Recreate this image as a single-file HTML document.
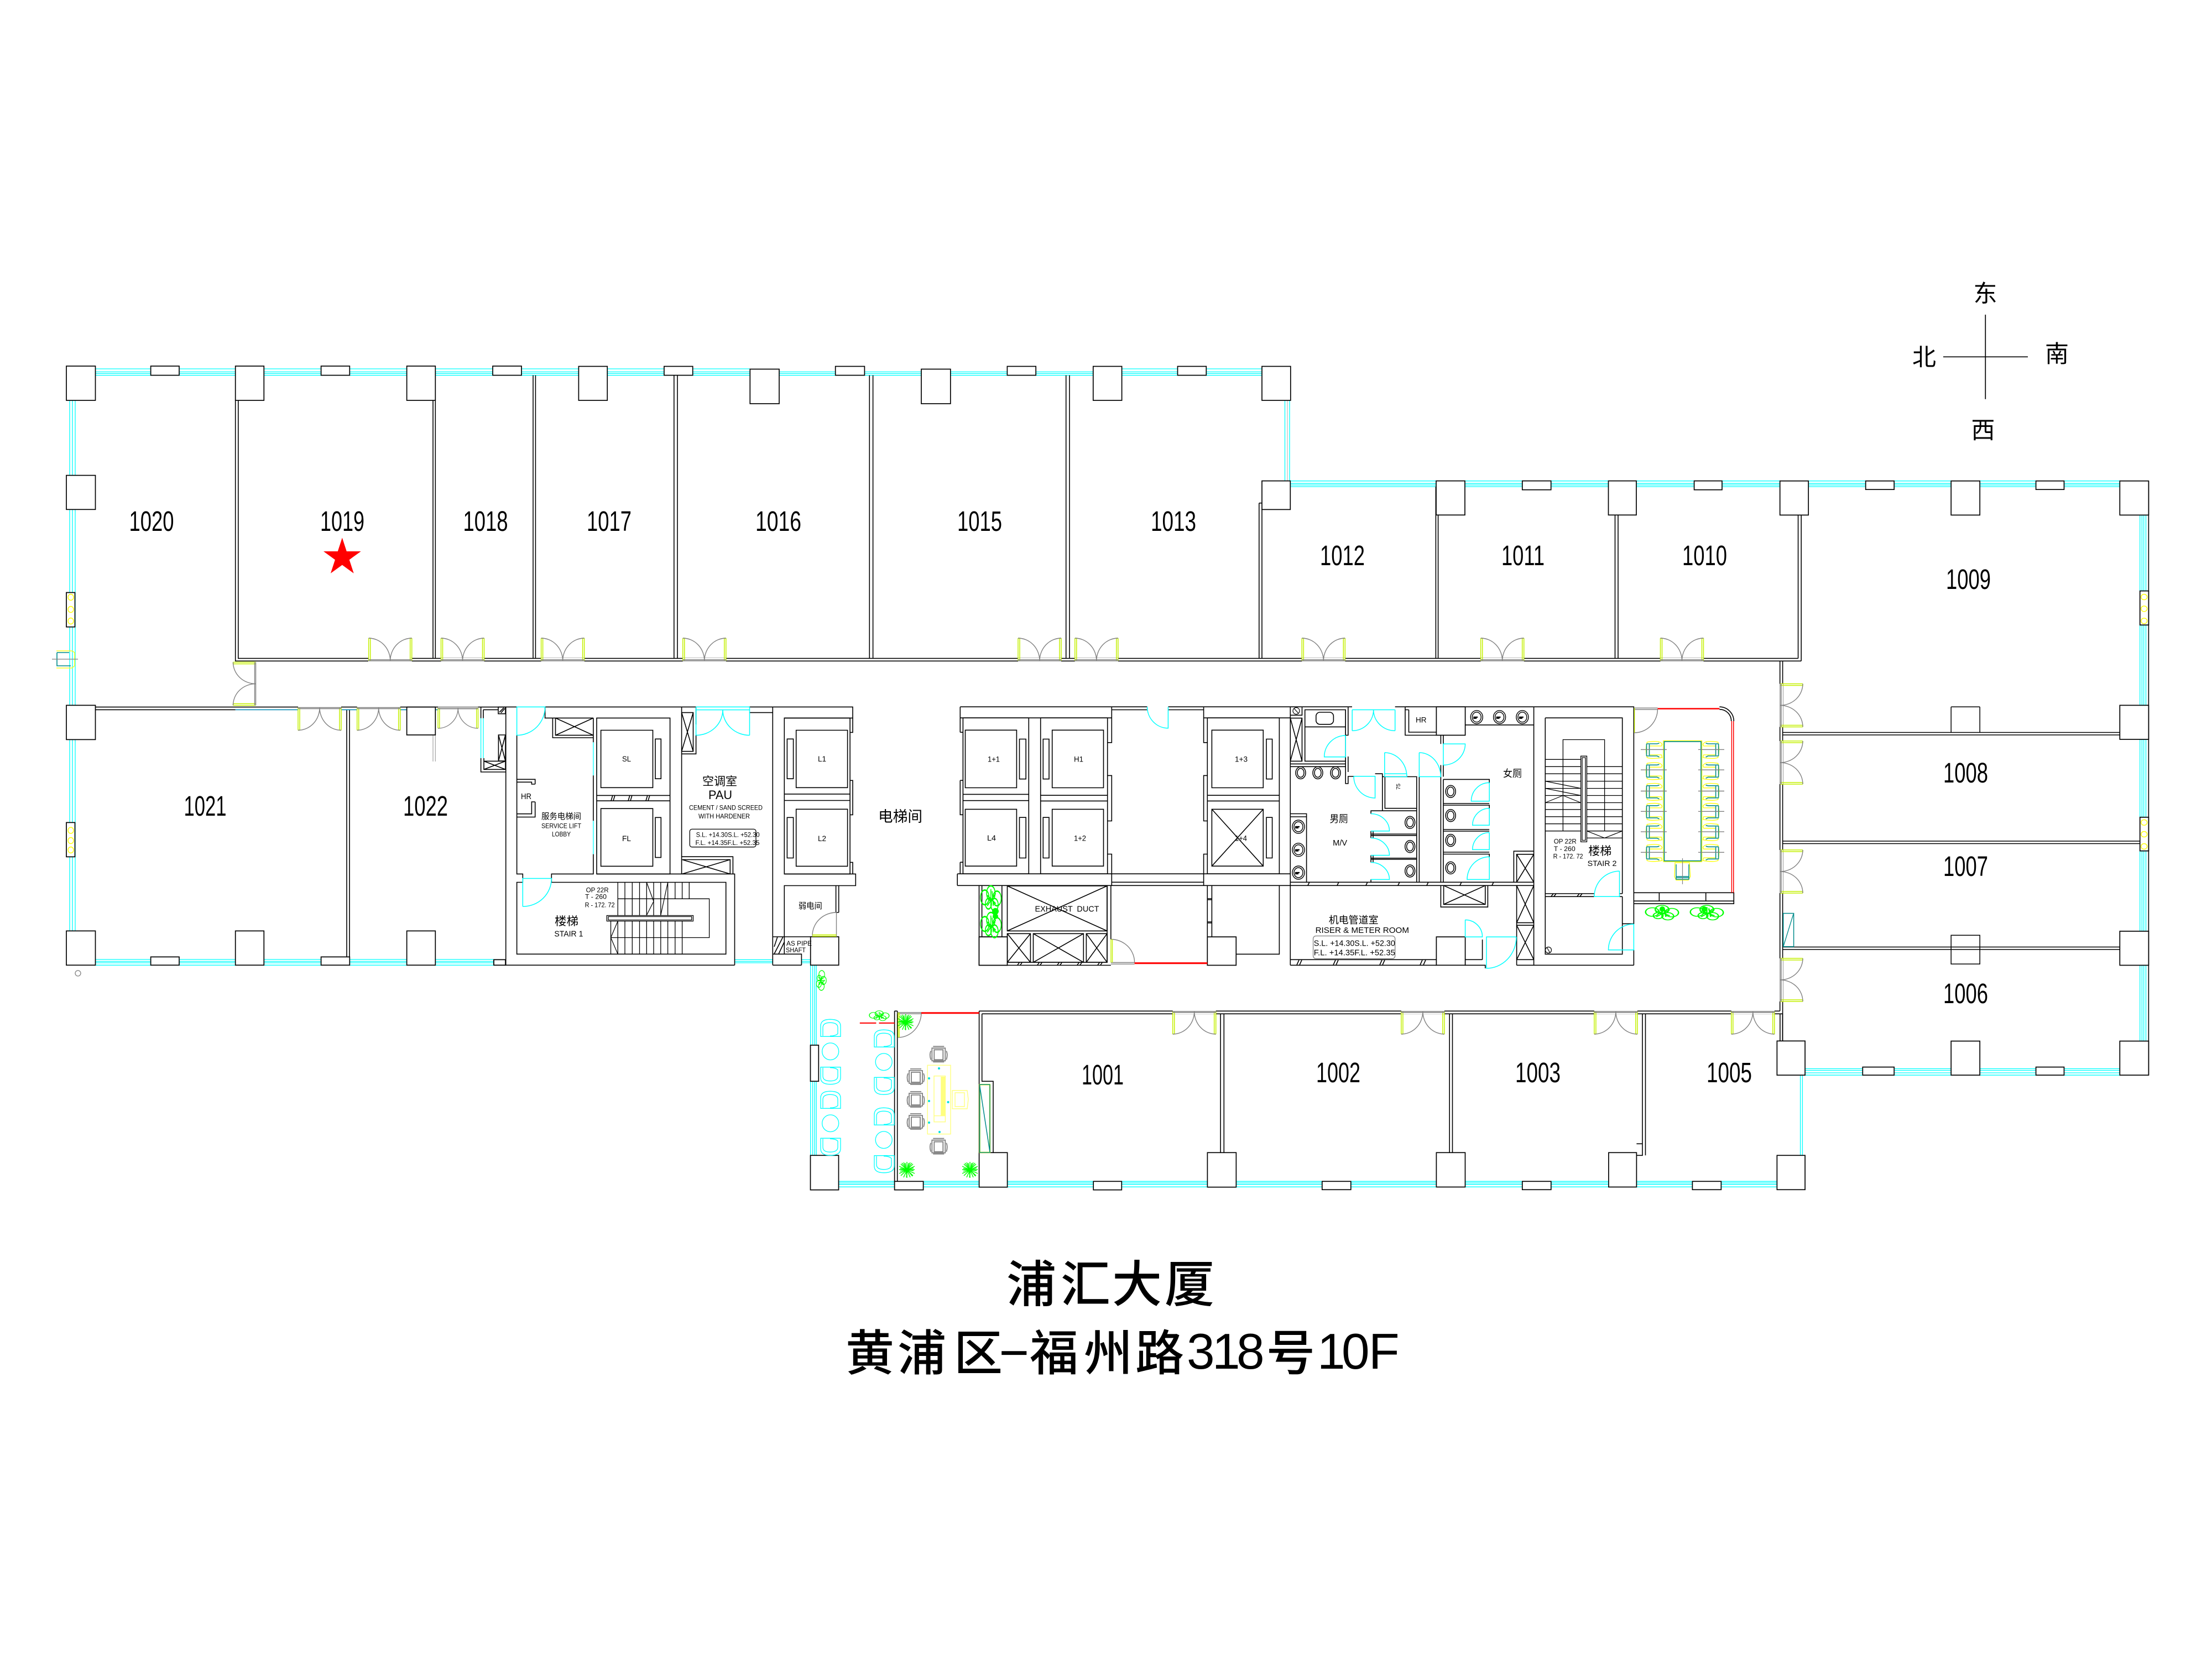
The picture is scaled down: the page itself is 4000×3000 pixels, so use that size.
<!DOCTYPE html>
<html><head><meta charset="utf-8"><title>浦汇大厦</title>
<style>html,body{margin:0;padding:0;background:#fff}svg{display:block}
text{font-family:"Liberation Sans","Noto Sans CJK SC",sans-serif;fill:#000;stroke:none}</style></head>
<body>
<svg xmlns="http://www.w3.org/2000/svg" width="4000" height="3000" viewBox="0 0 4000 3000">
<defs>
<g id="dd">
<rect x="0" y="36" width="78" height="7" fill="#fff"/>
<path d="M0 0V41M3 0V41M75 0V41M78 0V41M0 0H3M75 0H78" fill="none" stroke="#c4f000" stroke-width="1.5"/>
<path d="M0 0A39 41 0 0 1 39 41M78 0A39 41 0 0 0 39 41M0 39H78M0 41H78" fill="none" stroke="#808080" stroke-width="1.4"/>
</g>
<g id="cc">
<path d="M4 1Q28 -3 31 5L30 8H8V24H30L31 29Q12 32 4 29Q0 15 4 1Z" fill="none" stroke="#ffff00" stroke-width="1.3"/>
<path d="M3 4H22L26 3M3 26H22L26 28M3 4V26M8 5V25" fill="none" stroke="#008b8b" stroke-width="1.6"/>
</g>
<g id="cu"><path d="M1 31V12Q1 0 18 0Q37 0 37 12V31ZM5 30V15Q5 6 18 6Q32 6 32 15V26Q28 30 18 30" fill="none" stroke="#00ffff" stroke-width="1.3"/></g>
<g id="gc"><path d="M3 3H27V26H3ZM7 6H23V24H7ZM1 8Q-2 15 1 24M29 8Q32 15 29 24M5 0H25M5 28H25" fill="none" stroke="#808080" stroke-width="1.8"/></g>
<g id="sp"><path d="M14 0V29M0 14H28M3 4L25 25M25 4L3 25M8 1L20 28M20 1L8 28M0 8L28 21M28 8L0 21M5 2L14 14M23 2L14 14M3 25L14 14M24 26L14 14M11 2L14 28M17 2L13 28M2 12L26 16M2 17L26 11" fill="none" stroke="#00ff00" stroke-width="1.4"/></g>
<g id="lf" fill="none" stroke="#00ff00" stroke-width="1.4">
<circle cx="8" cy="12" r="7"/><circle cx="18" cy="8" r="7"/><circle cx="28" cy="13" r="7"/><circle cx="14" cy="18" r="5"/><circle cx="24" cy="19" r="6"/><path d="M18 4V22M12 10L26 18M26 8L12 20M20 6L22 20"/></g>
<g id="tt" fill="none" stroke="#000" stroke-width="1.5"><ellipse cx="0" cy="0" rx="9" ry="11"/><ellipse cx="0" cy="0" rx="6" ry="8"/></g>
<g id="sk" fill="none" stroke="#000" stroke-width="1.4"><ellipse cx="0" cy="0" rx="11" ry="12"/><ellipse cx="0" cy="0" rx="8" ry="9"/><path d="M-6 0H2M-6 2H0" stroke-width="2.2"/></g>
</defs>

<!-- glazing -->
<g fill="none" stroke="#00ffff" stroke-width="1.3">
<path d="M172 667H1356M1976 667H2282M172 672.5H2282M172 675.5H2282M172 678.6H2282"/>
<path d="M2323.5 724V870M2332 724V870"/>
<path d="M2333 869.7H3833M2333 874.2H3833M2333 877H3833M2333 880H3833"/>
<path d="M3869.7 931V1882M3873.4 931V1882M3876.7 931V1882M3880.5 931V1882"/>
<path d="M3264 1932.5H3833M3264 1935.5H3833M3264 1940H3833M3264 1944.2H3833"/>
<path d="M126 724V1683M131 724V1683M136 724V1683"/>
<path d="M172 1735H893M172 1738.5H893M172 1741H893M172 1745.3H893"/>
<path d="M1328 1735.4H1397M1328 1738.5H1397M1328 1741H1397M1449 1735.4H1466M1449 1738.5H1466M1449 1741H1466"/>
<path d="M1516 2136.3H3213M1516 2139H3213M1516 2141.7H3213M1516 2146.3H3213"/>
<path d="M1465.7 1745V2089M1469.6 1745V2089M1473.2 1745V2089M1476.2 1745V2089"/>
<path d="M3255.6 1944V2089M3259.4 1944V2089"/>
<path d="M869.6 1298.7V1371M874 1298.7V1371"/>
<path d="M1072.9 1342.2V1402.2M1079 1342.2V1402.2M1072.9 1484.3V1544.6M1079 1484.3V1544.6"/>
</g>
<path d="M2328 724V870" stroke="#bbb" stroke-width="1.2" fill="none"/>

<!-- walls -->
<g fill="none" stroke="#000" stroke-width="1.6">
<path d="M425.7 724V1195.3H666M430.8 724V1190.6H666"/>
<path d="M743 1190.6H3251.6M743 1195.3H3257.2"/>
<path d="M783 724V1190.6M787.3 724V1190.6M964 678.6V1190.6M968.4 678.6V1190.6"/>
<path d="M1218.8 678.6V1190.6M1225 678.6V1190.6M1572.3 678.6V1190.6M1578.6 678.6V1190.6M1927.7 678.6V1190.6M1934 678.6V1190.6"/>
<path d="M2276.8 909.7V1190.6M2276.8 909.7H2282M2282 921V1190.6M2596.4 880V1190.6M2600.6 931V1190.6M2920.5 931.3V1190.6M2926 931.3V1190.6M3251.6 931.3V1190.6M3257.2 931.3V1195.3"/>
<path d="M172.5 1278.6H914.7M172.5 1283.4H425.7"/>
<path d="M627 1283.4V1735.4M632 1283.4V1735.4"/>
<path d="M3218.7 1195.3V1828.3M3223.6 1195.3V1882.6"/>
<path d="M3223.6 1324.5H3833.3M3223.6 1329H3833.3M3223.6 1521H3869.7M3223.6 1525.5H3869.7M3223.6 1712.5H3833.3M3223.6 1717H3833.3"/>
<path d="M3885.4 870V1944.2"/>
<path d="M1770.6 1828.3H3218.7M1775.7 1833.3H3223.6M1770.6 1828.3V2084.3M1775.7 1833.3V1955.3H1796V2084.3"/>
<path d="M1617.6 1828.3V2136.5M1622.7 1828.3V2136.5M1617.6 1828.3H1622.7"/>
<path d="M2207.1 1833.3V2084.3M2213.3 1833.3V2084.3M2621.2 1833.3V2084.3M2626.5 1833.3V2084.3M2970 1833.3V2089.3H2959.4M2975.5 1833.3V2089.3M2959.4 2068.3H2970M3218.9 1833.3V1882.3M3223.4 1833.3V1882.3"/>
</g>
<path d="M425.7 1283.4H539M615.7 1283.4H645.7M722 1283.4H736M787.3 1283.4H792" stroke="#0a8cb4" stroke-width="1.6" fill="none"/>
<path d="M783 1329V1377M787.3 1329V1377" stroke="#999" stroke-width="1.1" fill="none"/>

<!-- west core -->
<g fill="none" stroke="#000" stroke-width="1.6">
<path d="M869.6 1278.5V1298.7M874 1283.4V1298.7M874 1283.4H901"/>
<path d="M901 1278.5H914V1290.7H901ZM903 1288L911 1280M906 1289L913 1281"/>
<path d="M901.4 1329H914V1376H901.4ZM901.4 1329L914 1376M914 1329L901.4 1376"/>
<path d="M869.6 1371V1396H914M875 1371V1391.4H914M875 1376.4H914V1391.4M875 1376.4L914 1391.4M914 1376.4L875 1391.4"/>
<path d="M914.7 1278.4V1745.3M892.8 1745.3H1328.5M892.8 1735.4V1745.3M892.8 1735.4H914.7"/>
<path d="M914.7 1278.4H934.6M985.6 1278.4H1258.6M1355.5 1278.4H1542V1298.4H1418.3"/>
<path d="M934.6 1329.6V1580.4H945.3V1595.5H934.6V1725.3H1312.7V1595.5H997.3V1580.4H1072.9V1544.6M1072.9 1484.3V1402.2M1072.9 1342.2V1334"/>
<path d="M985.6 1278.4V1298.4H1072.9M999.4 1298.4V1334H1072.9V1298.4M1004.5 1298.4V1329.6H1072.9M1004.5 1298.4L1072.9 1329.6M1072.9 1298.4L1004.5 1329.6"/>
<path d="M1079 1298.4H1211.6V1580.4H1079ZM1079 1438.4H1211.6M1079 1448.2H1211.6"/>
<path d="M1086.6 1320.5H1180.5V1424.3H1086.6ZM1185 1336.3H1195.3V1408.2H1185ZM1086.6 1462.2H1180.5V1566.4H1086.6ZM1185 1478.3H1195.3V1550.6H1185Z"/>
<path d="M1105 1448L1108 1438M1109 1448L1112 1438M1136 1448L1139 1438M1140 1448L1143 1438M1168 1448L1171 1438M1172 1448L1175 1438"/>
<path d="M1079 1580.4H1328.5V1745.3M1232.6 1278.4V1580.4M1397.3 1278.4V1745.3"/>
<path d="M1232.6 1288.6H1253.5V1358.7H1232.6M1232.6 1288.6L1253.5 1358.7M1253.5 1288.6L1232.6 1358.7M1232.6 1363.3H1258.6V1329.6M1258.6 1278.4V1310"/>
<path d="M1355.5 1288.6H1397.3"/>
<path d="M1232.6 1549.2H1325.4V1580.4M1233.6 1554.5H1320.3V1580.4M1233.6 1554.5L1320.3 1580.4M1320.3 1554.5L1233.6 1580.4"/>
<path d="M1117.2 1595.5V1655M1130 1595.5V1655M1143.3 1595.5V1655M1156.5 1595.5V1655M1169.3 1595.5V1655M1182 1595.5V1655M1194.8 1595.5V1655M1207.6 1595.5V1655M1220.8 1595.5V1625.3M1233.6 1595.5V1625.3M1246.3 1595.5V1625.3" stroke-width="1.3"/>
<path d="M1104.5 1665.6V1725.3M1117.2 1665.6V1725.3M1130 1665.6V1725.3M1143.3 1665.6V1725.3M1156.5 1665.6V1725.3M1169.3 1665.6V1725.3M1182 1665.6V1725.3M1194.8 1665.6V1725.3M1207.6 1665.6V1725.3M1220.8 1665.6V1725.3M1233.6 1665.6V1725.3" stroke-width="1.3"/>
<path d="M1117.2 1625.3H1282.6V1695.5H1104.5M1097.3 1655.5H1253.5V1665.6H1097.3ZM1100 1657.5H1250.8V1663.6H1100Z" stroke-width="1.3"/>
<path d="M1169.3 1595.5L1182 1630L1169.3 1655M1207.6 1595.5L1194.8 1655M1117.2 1665.6L1104.5 1695.5L1117.2 1725.3" stroke-width="1.2"/>
<path d="M934.6 1409.3H967.7V1418M967.7 1450V1477.5H934.6M934.6 1414.3H961.4V1418H967.7M967.7 1450H961.4V1471.7H934.6"/>
<path d="M1418.3 1298.4H1537.1V1580.4H1418.3ZM1418.3 1435.9H1537.1M1418.3 1447.5H1537.1"/>
<path d="M1439.7 1320.5H1532.6V1424.3H1439.7ZM1423.4 1336.3H1434.6V1408.2H1423.4ZM1439.7 1463.3H1532.6V1566.4H1439.7ZM1423.4 1478.3H1434.6V1551.5H1423.4Z"/>
<path d="M1542 1298.4V1324.4H1537M1537 1411.3H1542V1473.4H1537M1537 1559.4H1542V1580.4"/>
<path d="M1418.3 1580.4H1547.3V1601.5H1418.3V1725.3M1511.6 1601.5V1650M1516.7 1601.5V1650M1511.6 1650H1516.7"/>
<path d="M1397.3 1694H1465.7M1397.3 1725.3H1449.4V1745.3M1397.3 1745.3H1449.4M1400 1712L1406 1694M1400 1725L1416 1694M1408 1725L1418 1704"/>
</g>

<!-- east core -->
<g fill="none" stroke="#000" stroke-width="1.6">
<path d="M1736.3 1278.2H2074.6M2112.4 1278.2H2333.3V1745.4M2010.3 1283.5H2074.6M2112.4 1283.5H2176.6"/>
<path d="M1736.3 1278.2V1298.2H2010.3M2176.6 1298.2H2333.3"/>
<path d="M1741.4 1298.2H1860.3V1580.2H1741.4ZM1741.4 1436.4H1860.3M1741.4 1447.7H1860.3"/>
<path d="M1881.7 1298.2H2002.7V1580.2H1881.7ZM1881.7 1438.2H2002.7M1881.7 1448.4H2002.7"/>
<path d="M2183.3 1298.2H2313.4V1580.2H2183.3ZM2183.3 1438.2H2313.4M2183.3 1448.4H2313.4"/>
<path d="M1745.5 1320.3H1838.4V1424.5H1745.5ZM1843.5 1336.5H1855.2V1408.7H1843.5ZM1745.5 1463.4H1838.4V1566.2H1745.5ZM1843.5 1478.2H1855.2V1551.5H1843.5Z"/>
<path d="M1902.7 1320.3H1995.5V1424.5H1902.7ZM1886.3 1336.5H1897V1408.7H1886.3ZM1902.7 1463.4H1995.5V1566.2H1902.7ZM1886.3 1478.2H1897V1551.5H1886.3Z"/>
<path d="M2191.4 1320.3H2284.3V1424.5H2191.4ZM2290 1336.5H2300.6V1408.7H2290ZM2191.4 1463.4H2284.3V1566.2H2191.4ZM2290 1478.2H2300.6V1551.5H2290ZM2191.4 1463.4L2284.3 1566.2M2284.3 1463.4L2191.4 1566.2"/>
<path d="M1736.3 1324.2H1741.4M1736.3 1298.2V1324.2M1736.3 1411.2H1741.4M1736.3 1411.2V1473.3H1741.4M1736.3 1559.2V1580.2M1736.3 1559.2H1741.4"/>
<path d="M2010.3 1278.2V1342.8H2002.7M2002.7 1402.4H2010.3V1484.5H2002.7M2002.7 1544.5H2010.3V1601.3"/>
<path d="M2176.6 1278.2V1342.8H2183.3M2183.3 1402.4H2176.6V1484.5H2183.3M2183.3 1544.5H2176.6V1601.3"/>
<path d="M1731.2 1580.2H2333.3M1731.2 1601.3H2773.6M1731.2 1580.2V1601.3M2010.3 1595.3H2176.6"/>
<path d="M1770.5 1601.3V1745.5H2008.8M2008.8 1601.3V1698.5M2002 1601.3V1740.2H1821.5M1775.6 1601.3V1694.2M1811.8 1601.3V1694.2M1770.5 1694.2H1821.5"/>
<path d="M1821.5 1602H2002V1683.4H1821.5ZM1821.5 1602L2002 1683.4M2002 1602L1821.5 1683.4"/>
<path d="M1821.5 1688.3H1863.4V1740.2H1821.5ZM1821.5 1688.3L1863.4 1740.2M1863.4 1688.3L1821.5 1740.2"/>
<path d="M1868.5 1688.3H1959.3V1740.2H1868.5ZM1868.5 1688.3L1959.3 1740.2M1959.3 1688.3L1868.5 1740.2"/>
<path d="M1964.4 1688.3H2002V1740.2H1964.4ZM1964.4 1688.3L2002 1740.2M2002 1688.3L1964.4 1740.2"/>
<path d="M1840 1745L1843 1741M1845 1745L1848 1741M1876 1745L1879 1741M1881 1745L1884 1741M1912 1745L1915 1741M1917 1745L1920 1741M1948 1745L1951 1741M1953 1745L1956 1741M1985 1745L1988 1741M1990 1745L1993 1741"/>
<path d="M2183.3 1601.3V1694.2M2191.4 1601.3V1694.2M2235.3 1725.4H2313.4V1601.3M2183.3 1625H2191.4M2183.3 1627H2191.4M2183.3 1667H2191.4M2183.3 1669H2191.4"/>
<path d="M2333.3 1595.3H2773.6M2333.3 1735.3H2597.4M2333.3 1745.4H2597.4M2649.6 1735.3H2680.6M2649.6 1745.4H2685.8V1751"/>
<path d="M2680.6 1699V1735.3M2742.6 1745.4H2954.4M2742.6 1601.3V1745.4"/>
<path d="M2742.6 1601.3L2773.6 1668.6M2773.6 1601.3L2742.6 1668.6M2742.6 1668.6H2773.6M2742.6 1673.2H2773.6M2742.6 1673.2L2773.6 1735.3M2773.6 1673.2L2742.6 1735.3M2742.6 1735.3H2773.6"/>
<path d="M2605.4 1601.3V1640.2H2690.4V1601.3M2610.6 1601.3V1635.4H2685.8V1601.3M2610.6 1601.3L2685.8 1635.4M2685.8 1601.3L2610.6 1635.4"/>
<path d="M2345 1745L2349 1736M2350 1745L2354 1736M2411 1745L2415 1736M2416 1745L2420 1736M2495 1745L2499 1736M2500 1745L2504 1736M2568 1745L2572 1736M2574 1745L2578 1736"/>
<path d="M2365 1601L2368 1595M2418 1601L2421 1595M2470 1601L2473 1595M2528 1601L2531 1595M2580 1601L2583 1595M2640 1601L2643 1595M2698 1601L2701 1595"/>
<path d="M2333.3 1278.2H2445M2522.7 1278.2H2649.6M2649.6 1278.2H2773.6M2333.3 1293.3H2354.5V1278.2M2333.3 1298.6H2354.5V1376.4H2333.3M2333.3 1298.6L2354.5 1376.4M2354.5 1298.6L2333.3 1376.4"/>
<path d="M2359.7 1283.5H2433.2V1376.4H2359.7ZM2359.7 1314.4H2433.2M2333.3 1381.4H2433.2M2333.3 1386.3H2433.2"/>
<rect x="2379.8" y="1288" width="31.6" height="21.8" rx="7"/>
<path d="M2433.2 1283.5V1329.5H2437.8V1278.2M2433.2 1368V1417H2437.8V1404H2448M2437.8 1368V1396"/>
<path d="M2486.6 1399.2H2499.8V1466M2499.8 1404.5H2561.8V1595.3M2504.4 1404.5V1461.7H2561.8"/>
<path d="M2479.1 1466.2H2561.8M2479.1 1471.5V1466.2H2499.8M2479.1 1595.3V1590.4M2479.1 1508.3H2561.8M2479.1 1510.8H2561.8M2479.1 1502.7V1515.4M2483 1502.7V1515.4M2479.1 1551.8H2561.8M2479.1 1554H2561.8M2479.1 1546.6V1559.5M2483 1546.6V1559.5"/>
<path d="M2566.4 1404.5V1595.3M2605.4 1404.5V1595.3M2610 1409.4V1595.3M2605.4 1329.5V1345.2M2610 1329.5V1345.2M2605.4 1383.5V1404.5M2610 1383.5V1404.5"/>
<path d="M2610 1409.4H2693.2V1415.4M2610 1453H2693.2M2610 1456H2693.2V1461.7M2610 1500H2693.2M2610 1503H2693.2M2610 1541H2693.2M2610 1544.5H2693.2V1549.4"/>
<path d="M2541 1278.2V1329.5H2597.4M2547.5 1283.5V1324H2597.4M2541 1278.2H2549M2541 1283.5H2547.5M2649.6 1310.9H2773.6"/>
<path d="M2737.4 1595.3V1539.2H2773.6M2742.6 1595.3V1544.8H2773.6M2742.6 1544.8L2773.6 1595.3M2773.6 1544.8L2742.6 1595.3"/>
<path d="M2333.3 1471.5H2362.6V1595.3M2333.3 1477H2362.6"/>
<path d="M2773.6 1278.2H2954.4V1671M2954.4 1717.7V1745.4M2794.3 1298.2H2933.7V1616M2794.3 1298.2V1725.4H2933.7V1670.4H2954.4M2933.7 1621.3V1670.4"/>
<path d="M2773.6 1278.2V1745.4"/>
<path d="M2794.3 1616H2882.9M2794.3 1621.3H2882.9M2928.5 1616H2933.7M2928.5 1621.3H2933.7M2805 1621L2809 1616M2810 1621L2814 1616M2852 1621L2856 1616M2857 1621L2861 1616"/>
<path d="M2826.4 1502.7V1337.5H2901.6V1502.7M2858.6 1367.3H2869.5V1522.4H2858.6ZM2861 1370H2867V1519.5H2861Z" stroke-width="1.3"/>
<path d="M2794.3 1373.3H2858.6M2794.3 1386.3H2858.6M2794.3 1399.2H2858.6M2794.3 1412.6H2858.6M2794.3 1425.6H2858.6M2794.3 1438.5H2858.6M2794.3 1451.5H2858.6M2794.3 1463.8H2858.6M2794.3 1476.8H2858.6M2794.3 1489.7H2858.6M2794.3 1502.7H2858.6" stroke-width="1.3"/>
<path d="M2869.5 1386.3H2933.7M2869.5 1399.2H2933.7M2869.5 1412.6H2933.7M2869.5 1425.6H2933.7M2869.5 1438.5H2933.7M2869.5 1451.5H2933.7M2869.5 1463.8H2933.7M2869.5 1476.8H2933.7M2869.5 1489.7H2933.7M2869.5 1502.7H2933.7M2869.5 1515.4H2933.7" stroke-width="1.3"/>
<path d="M2794.3 1412.6L2858.6 1425.6M2794.3 1425.6L2858.6 1438.5M2794.3 1451.5L2826.4 1438.5L2858.6 1451.5M2869.5 1502.7L2901.6 1515.4L2933.7 1502.7" stroke-width="1.2"/>
<circle cx="2800" cy="1718" r="5.5" stroke-width="1.2"/><path d="M2797 1713L2803 1723" stroke-width="1.2"/>
<circle cx="2344" cy="1285.5" r="6" stroke-width="1.2"/><path d="M2340 1281L2348 1290" stroke-width="1.2"/>
<path d="M2954.4 1614.3H3135.3V1634.2H2954.4M2954.4 1629.3H3135.3M3000.4 1614.3V1629.3M3084.7 1614.3V1629.3"/>
<path d="M3109.4 1278.2A26 26 0 0 1 3135.3 1304M3109.4 1282.8A21 21 0 0 1 3130.7 1304"/>
</g>

<!-- toilets, sinks -->
<use href="#tt" x="2352" y="1397.5"/><use href="#tt" x="2383" y="1397.5"/><use href="#tt" x="2415" y="1397.5"/>
<use href="#tt" x="2549.7" y="1487.3"/><use href="#tt" x="2549.7" y="1530.8"/><use href="#tt" x="2549.7" y="1575"/>
<use href="#tt" x="2623.2" y="1431.2"/><use href="#tt" x="2623.2" y="1474.7"/><use href="#tt" x="2623.2" y="1519.6"/><use href="#tt" x="2623.2" y="1569.4"/>
<use href="#sk" x="2348" y="1495"/><use href="#sk" x="2348" y="1536.7"/><use href="#sk" x="2348" y="1578"/>
<use href="#sk" x="2670.3" y="1296.8"/><use href="#sk" x="2711.6" y="1296.8"/><use href="#sk" x="2752.9" y="1296.8"/>

<!-- columns & piers -->
<g fill="#fff" stroke="#000" stroke-width="1.7">
<rect x="120" y="662" width="52.5" height="62"/><rect x="425.7" y="662" width="51.6" height="62"/><rect x="735.6" y="662" width="51.7" height="62"/><rect x="1046.4" y="662.5" width="51.8" height="61.5"/><rect x="1356.3" y="667.5" width="52.7" height="62.5"/><rect x="1666" y="667.5" width="52.8" height="62.5"/><rect x="1976.8" y="662.5" width="51.8" height="61.5"/><rect x="2282" y="662.5" width="51.8" height="61.5"/>
<rect x="120" y="859.6" width="52.5" height="61.7"/><rect x="120" y="1275.4" width="52.5" height="62"/><rect x="120" y="1683.4" width="52.5" height="61.9"/><rect x="425.7" y="1683.4" width="51.6" height="61.9"/><rect x="735.6" y="1683.4" width="51.7" height="61.9"/><rect x="735.6" y="1278.6" width="51.7" height="50.4"/>
<rect x="2282" y="869.6" width="51.3" height="51.8"/><rect x="2597" y="869.6" width="52" height="61.7"/><rect x="2908.5" y="869.6" width="50.5" height="61.7"/><rect x="3218.7" y="869.7" width="51.5" height="61.7"/><rect x="3528.2" y="869.7" width="52" height="61.7"/><rect x="3833.3" y="869.7" width="52.1" height="61.7"/>
<rect x="3833.3" y="1275.4" width="52.1" height="61.6"/><rect x="3833.3" y="1683.9" width="52.1" height="61.6"/><rect x="3833.3" y="1882.6" width="52.1" height="61.6"/>
<rect x="3528.2" y="1882.6" width="52" height="61.6"/><rect x="3213.4" y="1882.4" width="50.7" height="61.8"/><rect x="3213.4" y="2089.3" width="50.7" height="62"/>
<rect x="1465.5" y="2089.3" width="51" height="62.4"/><rect x="1770.6" y="2084.3" width="51" height="62.4"/><rect x="2183.4" y="2084.3" width="52" height="62.4"/><rect x="2597.4" y="2084.3" width="52.1" height="62.2"/><rect x="2908.9" y="2084.3" width="50.5" height="62.2"/>
<rect x="1465.7" y="1694" width="51" height="51.3"/><rect x="1770.5" y="1694.2" width="51" height="51.3"/><rect x="2183.3" y="1694.2" width="52" height="51.3"/><rect x="2597.4" y="1694.2" width="52.2" height="51.2"/><rect x="2597.4" y="1278.2" width="52.2" height="51.3"/>
<rect x="272.6" y="662" width="51.4" height="16.6"/><rect x="580.6" y="662" width="51.7" height="16.6"/><rect x="891" y="662" width="52" height="16.6"/><rect x="1200.9" y="662.5" width="51.8" height="16.1"/><rect x="1510.7" y="662.5" width="52.7" height="16.1"/><rect x="1821.4" y="662.5" width="51.8" height="16.1"/><rect x="2129.5" y="662.5" width="51.8" height="16.1"/>
<rect x="2752.8" y="869.6" width="51.9" height="16.1"/><rect x="3063.6" y="869.6" width="50.4" height="16.1"/><rect x="3373.7" y="869.7" width="51.5" height="15.5"/><rect x="3681.6" y="869.7" width="50.9" height="15.5"/>
<rect x="272.6" y="1730.4" width="51.4" height="14.9"/><rect x="580.6" y="1730.4" width="51.7" height="14.9"/><rect x="893" y="1735.4" width="21" height="9.9"/>
<rect x="3368.3" y="1929.6" width="56.9" height="14.6"/><rect x="3681.6" y="1929.6" width="50.9" height="14.6"/>
<rect x="1617.6" y="2136.3" width="52" height="15.4"/><rect x="1977.2" y="2136.3" width="51.1" height="15.4"/><rect x="2390.8" y="2136.3" width="52" height="15"/><rect x="2752.8" y="2136.3" width="52" height="15"/><rect x="3060.4" y="2136.3" width="52" height="15"/>
<rect x="120" y="1071.5" width="15.5" height="62.2"/><rect x="120" y="1487.4" width="15.5" height="62"/><rect x="3869.7" y="1068.6" width="15.7" height="61.6"/><rect x="3869.7" y="1477.8" width="15.7" height="60.9"/><rect x="1465.5" y="1890" width="14.8" height="65.3"/>
</g>
<path d="M3528.2 1278.3V1324.5M3580.2 1278.3V1324.5M3528.2 1278.3H3580.2M3528.2 1691.2H3580.2V1743.3H3528.2Z" fill="none" stroke="#000" stroke-width="1.5"/>

<!-- yellow circles -->
<g fill="none" stroke="#ffff00" stroke-width="1.4">
<ellipse cx="128" cy="1080" rx="5" ry="5.5"/><ellipse cx="128" cy="1102" rx="5" ry="5.5"/><ellipse cx="128" cy="1123" rx="5" ry="5.5"/>
<ellipse cx="128" cy="1501.6" rx="5" ry="5.5"/><ellipse cx="128" cy="1520" rx="5" ry="5.5"/><ellipse cx="128" cy="1537" rx="5" ry="5.5"/>
<ellipse cx="3877.2" cy="1079.6" rx="5.5" ry="5"/><ellipse cx="3877.2" cy="1100.8" rx="5.5" ry="5"/><ellipse cx="3877.2" cy="1122.8" rx="5.5" ry="5"/>
<ellipse cx="3877.2" cy="1487.3" rx="5.5" ry="5"/><ellipse cx="3877.2" cy="1508.6" rx="5.5" ry="5"/><ellipse cx="3877.2" cy="1530.6" rx="5.5" ry="5"/>
</g>
<ellipse cx="141" cy="1760" rx="5" ry="5" fill="none" stroke="#808080" stroke-width="1.3"/>
<!-- west wall AC unit -->
<path d="M102 1177H130L135 1180V1204L130 1208H102" fill="none" stroke="#ffff00" stroke-width="1.3"/>
<path d="M103 1180H125M103 1180V1204H128" fill="none" stroke="#008b8b" stroke-width="1.6"/>
<path d="M94 1192H141" stroke="#808080" stroke-width="1.2"/>

<!-- double doors -->
<use href="#dd" transform="translate(666.7,1154)"/><use href="#dd" transform="translate(797.5,1154)"/><use href="#dd" transform="translate(978.6,1154)"/><use href="#dd" transform="translate(1234.8,1154)"/><use href="#dd" transform="translate(1841,1154)"/><use href="#dd" transform="translate(1943.8,1154)"/><use href="#dd" transform="translate(2354.3,1154)"/><use href="#dd" transform="translate(2677.7,1154)"/><use href="#dd" transform="translate(3002.5,1154)"/>
<use href="#dd" transform="translate(539,1320.5) scale(1,-1)"/><use href="#dd" transform="translate(645.7,1320.5) scale(1,-1)"/><use href="#dd" transform="translate(792,1317) scale(.93,-.9)"/>
<use href="#dd" transform="translate(2120.7,1870) scale(1,-1)"/><use href="#dd" transform="translate(2533.9,1870) scale(1,-1)"/><use href="#dd" transform="translate(2882.9,1870) scale(1,-1)"/><use href="#dd" transform="translate(3130.8,1870) scale(1,-1)"/>
<use href="#dd" transform="translate(3260,1236.5) rotate(90)"/><use href="#dd" transform="translate(3260,1340) rotate(90)"/><use href="#dd" transform="translate(3260,1537) rotate(90)"/><use href="#dd" transform="translate(3260,1733) rotate(90)"/>
<use href="#dd" transform="translate(421.5,1275.5) rotate(-90)"/>

<!-- cyan doors -->
<g fill="none" stroke="#00ffff" stroke-width="1.5">
<path d="M934.6 1329.6V1278.4H985.6A51 51.2 0 0 1 934.6 1329.6"/>
<path d="M945.3 1639.3V1588.5H997.3A52 50.8 0 0 1 945.3 1639.3"/>
<path d="M1258.6 1278.4H1355.5M1258.6 1283.6H1355.5M1258.6 1329.6V1278.4M1355.5 1329.6V1278.4M1307 1283.6A48.4 46 0 0 1 1258.6 1329.6M1307 1283.6A48.5 46 0 0 0 1355.5 1329.6"/>
<path d="M2074.6 1278.2V1283.5M2112.4 1278.2V1316.8A37.8 38.6 0 0 1 2074.6 1278.2"/>
<path d="M2445.2 1283.5H2522.7M2445.2 1321.4V1283.5M2522.7 1321.4V1283.5M2483.7 1283.5A38.5 37.9 0 0 1 2445.2 1321.4M2483.7 1283.5A39 37.9 0 0 0 2522.7 1321.4"/>
<path d="M2433.2 1330V1368.7H2394.7A38.5 38.7 0 0 1 2433.2 1330"/>
<path d="M2448 1403.8H2486.6V1443.1A38.6 39.3 0 0 1 2448 1403.8"/>
<path d="M2503.8 1361V1404.5H2544A40.2 43.5 0 0 0 2503.8 1361M2503.8 1399.2H2544"/>
<path d="M2566.4 1361V1404.5H2605.4A39 43.5 0 0 0 2566.4 1361"/>
<path d="M2610 1383.5V1345.2H2649.6A39.6 38.3 0 0 1 2610 1383.5"/>
<path d="M2479 1502.7H2512.5A33.5 31.2 0 0 0 2479 1471.5M2479 1546.6H2512.5A33.5 31.2 0 0 0 2479 1515.4M2479 1590.4H2512.5A33.5 30.9 0 0 0 2479 1559.5"/>
<path d="M2693.2 1415.4V1448.7H2660.5A32.7 33.3 0 0 1 2693.2 1415.4M2693.2 1461.7V1492.2H2662.8A30.4 30.5 0 0 1 2693.2 1461.7M2693.2 1505.5V1536.4H2662.8A30.4 30.9 0 0 1 2693.2 1505.5M2693.2 1549.4V1590.4H2653A40.2 41 0 0 1 2693.2 1549.4"/>
<path d="M2928.5 1575.3V1621.3H2882.9A45.6 46 0 0 1 2928.5 1575.3"/>
<path d="M2954.4 1671V1717.7H2908.5A45.9 46.7 0 0 1 2954.4 1671"/>
<path d="M2649.6 1663.4V1694.2H2680.6A31 30.8 0 0 0 2649.6 1663.4"/>
<path d="M2742 1694.2H2688V1751A54 56.8 0 0 0 2742 1694.2"/>
</g>

<!-- gray/yellow singles -->
<g fill="none" stroke-width="1.4">
<path d="M1469 1692A43.5 42 0 0 1 1512.5 1650V1694" stroke="#808080"/><path d="M1469 1690.5H1512.5M1469 1693H1512.5" stroke="#c4f000"/>
<path d="M2008.8 1698.5A42.8 42 0 0 1 2051.6 1740.5M2008.8 1740.5H2051.6M2008.8 1743.3H2051.6" stroke="#808080"/><path d="M2009 1698.5V1740.5M2011.5 1698.5V1740.5" stroke="#c4f000"/>
<path d="M1622.7 1831H1666M1622.7 1833.3H1666M1624 1876A42 45 0 0 0 1666 1831" stroke="#808080"/><path d="M1624 1831V1876M1626.2 1831V1876" stroke="#c4f000"/>
<path d="M2955.6 1280.3H2997.5M2955.6 1283H2997.5M2997.5 1282A42 43 0 0 1 2955.6 1325" stroke="#808080"/><path d="M2955.6 1280.3V1325" stroke="#c4f000"/>
</g>

<!-- red -->
<g fill="#f00">
<rect x="2051.6" y="1740.2" width="131.7" height="3.1"/><rect x="1666" y="1830.3" width="104.6" height="3"/>
<rect x="2997.5" y="1280.3" width="111.9" height="2.5"/><rect x="3130.7" y="1304" width="1.5" height="310.3"/><rect x="3134" y="1304" width="1.5" height="310.3"/>
<rect x="1554.8" y="1849" width="29.6" height="2"/><rect x="1589.5" y="1849" width="28.1" height="2"/>
<polygon points="618.8,972.4 626.8,997 652.7,997 631.7,1012.2 639.7,1036.8 618.8,1021.6 597.9,1036.8 605.9,1012.2 585,997 610.8,997"/>
</g>

<!-- conference room -->
<path d="M3008 1339.5H3077.5V1558.2H3008Z" fill="none" stroke="#ffff00" stroke-width="1.3"/>
<rect x="3009.5" y="1341" width="66.5" height="215.7" fill="none" stroke="#008b8b" stroke-width="1.7"/>
<use href="#cc" x="2974.5" y="1341"/><use href="#cc" x="2974.5" y="1379.3"/><use href="#cc" x="2974.5" y="1416.8"/><use href="#cc" x="2974.5" y="1452.9"/><use href="#cc" x="2974.5" y="1489.7"/><use href="#cc" x="2974.5" y="1527.3"/>
<use href="#cc" transform="translate(3110.6,1341) scale(-1,1)"/><use href="#cc" transform="translate(3110.6,1379.3) scale(-1,1)"/><use href="#cc" transform="translate(3110.6,1416.8) scale(-1,1)"/><use href="#cc" transform="translate(3110.6,1452.9) scale(-1,1)"/><use href="#cc" transform="translate(3110.6,1489.7) scale(-1,1)"/><use href="#cc" transform="translate(3110.6,1527.3) scale(-1,1)"/>
<path d="M2967 1355.4H3014M2967 1392.2H3014M2967 1430.5H3014M2967 1467.3H3014M2967 1504.1H3014M2967 1541.3H3014M3071 1355.4H3118M3071 1392.2H3118M3071 1430.5H3118M3071 1467.3H3118M3071 1504.1H3118M3071 1541.3H3118" stroke="#808080" stroke-width="1.4"/>
<path d="M3029 1560H3055L3056.6 1585L3053 1591.5H3031L3028 1585Z" fill="none" stroke="#ffff00" stroke-width="1.3"/>
<path d="M3031 1563V1590H3054V1563M3031 1587H3054M3031 1585H3054" fill="none" stroke="#008b8b" stroke-width="1.5"/>
<path d="M3042.5 1552V1599" stroke="#808080" stroke-width="1.2"/>
<use href="#lf" transform="translate(2974,1636) scale(1.75,1.1)"/><use href="#lf" transform="translate(3055,1636) scale(1.75,1.1)"/>

<!-- reception -->
<rect x="1771.6" y="1961.3" width="18.4" height="122.7" fill="none" stroke="#ffff00" stroke-width="2.4"/>
<path d="M1771.6 1961.3H1790V2084H1771.6ZM1771.6 1963L1790 2083" fill="none" stroke="#008b8b" stroke-width="1.5"/>
<rect x="3224.7" y="1651.6" width="18.9" height="60.2" fill="none" stroke="#008b8b" stroke-width="1.5"/><path d="M3225 1711L3243 1653" stroke="#008b8b" stroke-width="1.3"/>
<g>
<use href="#cu" x="1483" y="1843.3"/><ellipse cx="1501.7" cy="1901.3" rx="15" ry="15.3" fill="none" stroke="#00ffff" stroke-width="1.3"/><use href="#cu" transform="translate(1483,1960.7) scale(1,-1)"/>
<use href="#cu" x="1483" y="1973.3"/><ellipse cx="1501.7" cy="2031.3" rx="15" ry="15.3" fill="none" stroke="#00ffff" stroke-width="1.3"/><use href="#cu" transform="translate(1483,2089.3) scale(1,-1)"/>
<use href="#cu" x="1580" y="1862.3"/><ellipse cx="1598.2" cy="1920.3" rx="15" ry="15.3" fill="none" stroke="#00ffff" stroke-width="1.3"/><use href="#cu" transform="translate(1580,1979.3) scale(1,-1)"/>
<use href="#cu" x="1580" y="2003.3"/><ellipse cx="1598.2" cy="2061.3" rx="15" ry="15.3" fill="none" stroke="#00ffff" stroke-width="1.3"/><use href="#cu" transform="translate(1580,2120.7) scale(1,-1)"/>
</g>
<rect x="1677.2" y="1926.3" width="41.8" height="124.4" fill="none" stroke="#ffff80" stroke-width="1.4"/>
<rect x="1689" y="1945.7" width="20.4" height="83" fill="none" stroke="#ffff80" stroke-width="1.4"/>
<rect x="1701.2" y="1947" width="8.2" height="70.7" fill="#ffff80"/>
<path d="M1689 2017.7H1709.4" stroke="#ffff80" stroke-width="1.3"/>
<g fill="#00e0e0"><circle cx="1698" cy="1932" r="2"/><circle cx="1680" cy="1950" r="2"/><circle cx="1680" cy="1991" r="2"/><circle cx="1714.5" cy="1993" r="2"/><circle cx="1680" cy="2030" r="2"/><circle cx="1699" cy="2047" r="2"/></g>
<path d="M1722 1972H1749L1751 1988L1749 2005H1722ZM1727 1976H1744V2001H1727Z" fill="none" stroke="#ffff80" stroke-width="1.4"/>
<use href="#gc" x="1682.3" y="1892.3"/><use href="#gc" x="1682.3" y="2058.7"/><use href="#gc" x="1641" y="1933"/><use href="#gc" x="1641" y="1974"/><use href="#gc" x="1641" y="2014"/>

<!-- plants -->
<use href="#lf" transform="translate(1571,1827) scale(1.05,.75)"/>
<use href="#lf" transform="translate(1495,1754) rotate(90) scale(1.05,.75)"/>
<use href="#sp" x="1623.7" y="1834"/><use href="#sp" x="1626" y="2101"/><use href="#sp" x="1740" y="2101"/>
<use href="#lf" transform="translate(1772,1600) scale(1.1,1.9)"/><use href="#lf" transform="translate(1772,1648) scale(1.1,1.9)"/>
<g fill="#00ff00"><circle cx="1800" cy="1648" r="6"/><circle cx="1800" cy="1657" r="5"/></g>
<g fill="#00ff00"><circle cx="3006" cy="1644" r="5"/><circle cx="3082" cy="1644" r="5"/></g>

<!-- room labels -->
<g font-size="51">
<text x="233.5" y="960" textLength="81" lengthAdjust="spacingAndGlyphs">1020</text>
<text x="579" y="960" textLength="80" lengthAdjust="spacingAndGlyphs">1019</text>
<text x="837.5" y="960" textLength="81" lengthAdjust="spacingAndGlyphs">1018</text>
<text x="1061" y="960" textLength="81" lengthAdjust="spacingAndGlyphs">1017</text>
<text x="1366" y="960" textLength="83" lengthAdjust="spacingAndGlyphs">1016</text>
<text x="1731" y="960" textLength="81" lengthAdjust="spacingAndGlyphs">1015</text>
<text x="2081" y="960" textLength="82" lengthAdjust="spacingAndGlyphs">1013</text>
<text x="2387" y="1022" textLength="81" lengthAdjust="spacingAndGlyphs">1012</text>
<text x="2715" y="1022" textLength="78" lengthAdjust="spacingAndGlyphs">1011</text>
<text x="3042" y="1022" textLength="81" lengthAdjust="spacingAndGlyphs">1010</text>
<text x="332.5" y="1475" textLength="77" lengthAdjust="spacingAndGlyphs">1021</text>
<text x="729" y="1475" textLength="81" lengthAdjust="spacingAndGlyphs">1022</text>
<text x="1956" y="1961" textLength="76" lengthAdjust="spacingAndGlyphs">1001</text>
<text x="2380" y="1957" textLength="80" lengthAdjust="spacingAndGlyphs">1002</text>
<text x="2740" y="1957" textLength="82" lengthAdjust="spacingAndGlyphs">1003</text>
<text x="3086" y="1957" textLength="82" lengthAdjust="spacingAndGlyphs">1005</text>
<text x="3519" y="1065" textLength="81" lengthAdjust="spacingAndGlyphs">1009</text>
<text x="3514" y="1415" textLength="81" lengthAdjust="spacingAndGlyphs">1008</text>
<text x="3514" y="1584" textLength="81" lengthAdjust="spacingAndGlyphs">1007</text>
<text x="3514" y="1814" textLength="81" lengthAdjust="spacingAndGlyphs">1006</text>
</g>

<!-- small labels -->
<g>
<text x="979" y="1481" font-size="15" textLength="72" lengthAdjust="spacingAndGlyphs">服务电梯间</text>
<text x="979" y="1497.5" font-size="12" textLength="72" lengthAdjust="spacingAndGlyphs">SERVICE LIFT</text>
<text x="998" y="1512.5" font-size="12" textLength="34" lengthAdjust="spacingAndGlyphs">LOBBY</text>
<text x="942" y="1445" font-size="15" textLength="19" lengthAdjust="spacingAndGlyphs">HR</text>
<text x="1125" y="1377" font-size="14" textLength="16" lengthAdjust="spacingAndGlyphs">SL</text>
<text x="1125" y="1521" font-size="14" textLength="16" lengthAdjust="spacingAndGlyphs">FL</text>
<text x="1479" y="1377" font-size="14" textLength="15" lengthAdjust="spacingAndGlyphs">L1</text>
<text x="1479" y="1521" font-size="14" textLength="15" lengthAdjust="spacingAndGlyphs">L2</text>
<text x="1270" y="1420" font-size="21" textLength="63" lengthAdjust="spacingAndGlyphs">空调室</text>
<text x="1281" y="1445" font-size="22" textLength="43" lengthAdjust="spacingAndGlyphs">PAU</text>
<text x="1246" y="1464.5" font-size="12" textLength="133" lengthAdjust="spacingAndGlyphs">CEMENT / SAND SCREED</text>
<text x="1263" y="1480" font-size="12" textLength="93" lengthAdjust="spacingAndGlyphs">WITH HARDENER</text>
<rect x="1247.3" y="1499.4" width="119.7" height="32.3" rx="4" fill="none" stroke="#000" stroke-width="1.3"/>
<text x="1258.6" y="1513.5" font-size="12" textLength="115" lengthAdjust="spacingAndGlyphs">S.L. +14.30S.L. +52.30</text>
<text x="1257.5" y="1528" font-size="12" textLength="116" lengthAdjust="spacingAndGlyphs">F.L. +14.35F.L. +52.35</text>
<text x="1059.6" y="1613.5" font-size="12" textLength="41" lengthAdjust="spacingAndGlyphs">OP 22R</text>
<text x="1058" y="1625.5" font-size="12" textLength="39" lengthAdjust="spacingAndGlyphs">T - 260</text>
<text x="1057.6" y="1640.5" font-size="12" textLength="54" lengthAdjust="spacingAndGlyphs">R - 172. 72</text>
<text x="1003" y="1673" font-size="21" textLength="43" lengthAdjust="spacingAndGlyphs">楼梯</text>
<text x="1002.4" y="1693.5" font-size="14.5" textLength="52" lengthAdjust="spacingAndGlyphs">STAIR 1</text>
<text x="1443.8" y="1643" font-size="15" textLength="43" lengthAdjust="spacingAndGlyphs">弱电间</text>
<text x="1422" y="1710" font-size="12" textLength="46" lengthAdjust="spacingAndGlyphs">AS PIPE</text>
<text x="1421" y="1722" font-size="12" textLength="36" lengthAdjust="spacingAndGlyphs">SHAFT</text>
<text x="1588" y="1486" font-size="27" textLength="80" lengthAdjust="spacingAndGlyphs">电梯间</text>
<text x="1786" y="1377.5" font-size="14" textLength="22" lengthAdjust="spacingAndGlyphs">1+1</text>
<text x="1942" y="1377.5" font-size="14" textLength="17" lengthAdjust="spacingAndGlyphs">H1</text>
<text x="1785" y="1520" font-size="14" textLength="16" lengthAdjust="spacingAndGlyphs">L4</text>
<text x="1942" y="1520.5" font-size="14" textLength="22" lengthAdjust="spacingAndGlyphs">1+2</text>
<text x="2233" y="1377.5" font-size="14" textLength="23" lengthAdjust="spacingAndGlyphs">1+3</text>
<text x="2233" y="1520.5" font-size="14" textLength="22" lengthAdjust="spacingAndGlyphs">1+4</text>
<text x="1871.5" y="1648.6" font-size="15" textLength="116" lengthAdjust="spacingAndGlyphs" xml:space="preserve">EXHAUST  DUCT</text>
<text x="2402.7" y="1670" font-size="18" textLength="90" lengthAdjust="spacingAndGlyphs">机电管道室</text>
<text x="2378.6" y="1687" font-size="14.5" textLength="169.4" lengthAdjust="spacingAndGlyphs">RISER &amp; METER ROOM</text>
<rect x="2374.6" y="1692.5" width="148.1" height="41" rx="5" fill="none" stroke="#808080" stroke-width="1.3"/>
<text x="2375.8" y="1710.4" font-size="15" textLength="147" lengthAdjust="spacingAndGlyphs">S.L. +14.30S.L. +52.30</text>
<text x="2375.8" y="1727.6" font-size="15" textLength="147" lengthAdjust="spacingAndGlyphs">F.L. +14.35F.L. +52.35</text>
<text x="2560" y="1306.3" font-size="14" textLength="19.6" lengthAdjust="spacingAndGlyphs">HR</text>
<text x="2404.5" y="1487" font-size="18" textLength="33" lengthAdjust="spacingAndGlyphs">男厕</text>
<text x="2410.2" y="1529" font-size="14.5" textLength="26" lengthAdjust="spacingAndGlyphs">M/V</text>
<text x="2718" y="1405" font-size="18" textLength="34" lengthAdjust="spacingAndGlyphs">女厕</text>
<text x="2809.8" y="1525.5" font-size="12" textLength="41" lengthAdjust="spacingAndGlyphs">OP 22R</text>
<text x="2809.8" y="1539" font-size="12" textLength="39" lengthAdjust="spacingAndGlyphs">T - 260</text>
<text x="2808.6" y="1552.5" font-size="12" textLength="54" lengthAdjust="spacingAndGlyphs">R - 172. 72</text>
<text x="2872.3" y="1546" font-size="21" textLength="42" lengthAdjust="spacingAndGlyphs">楼梯</text>
<text x="2870.6" y="1566" font-size="14" textLength="52.8" lengthAdjust="spacingAndGlyphs">STAIR 2</text>
<text transform="translate(2532,1428) rotate(-90)" font-size="10">75</text>
</g>

<!-- compass -->
<path d="M3514 645.3H3667M3590.3 569V721.7" stroke="#000" stroke-width="1.7" fill="none"/>
<g font-size="43">
<text x="3568.5" y="546">东</text><text x="3458" y="661">北</text><text x="3698" y="655">南</text><text x="3564.5" y="793">西</text>
</g>

<!-- title -->
<text y="2354" font-size="90" x="1820 1918 2011 2106" font-weight="500">浦汇大厦</text>
<text y="2478" font-size="88" x="1529 1623 1725" font-weight="500">黄浦区</text>
<text transform="translate(1803,2470) scale(2.1,1)" font-size="88" x="0">-</text>
<text y="2478" font-size="88" x="1862 1960 2053" font-weight="500">福州路</text>
<text y="2475" font-size="91" x="2146 2192 2236">318</text>
<text y="2478" font-size="88" x="2290" font-weight="500">号</text>
<text y="2475" font-size="91" x="2382 2426 2475">10F</text>
</svg>
</body></html>
